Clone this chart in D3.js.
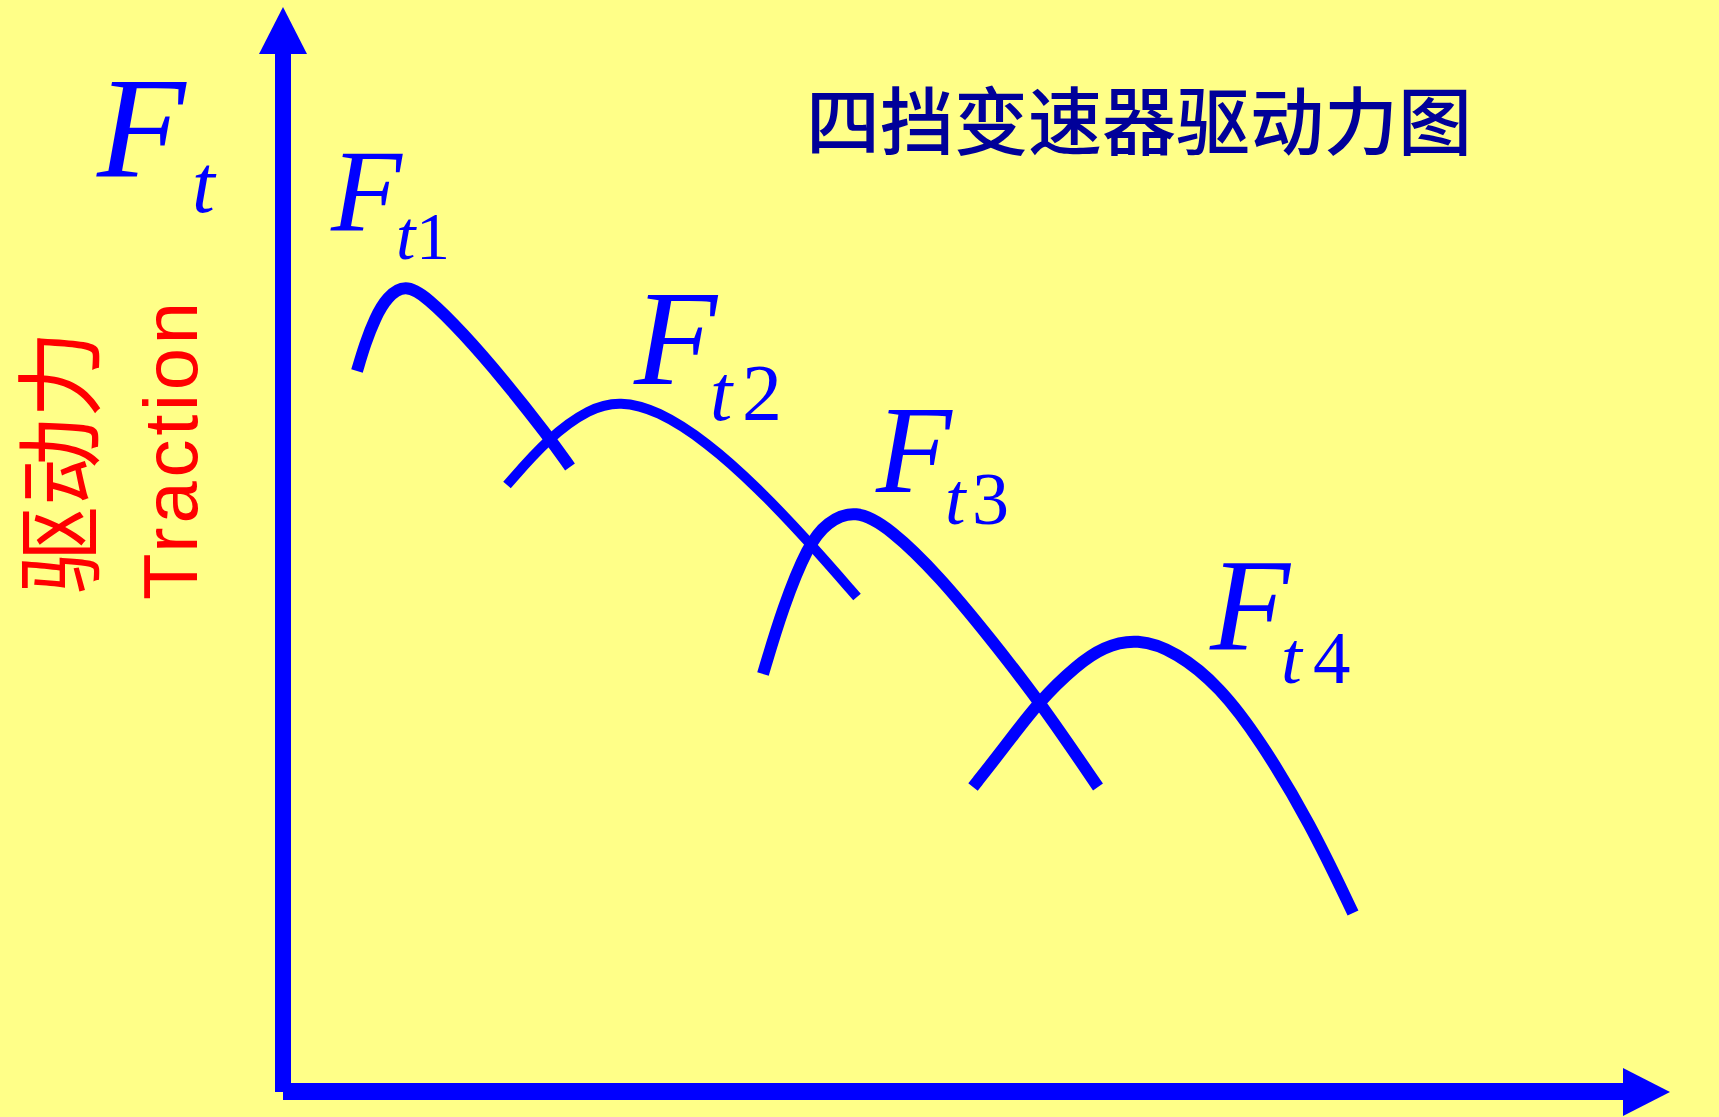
<!DOCTYPE html>
<html>
<head>
<meta charset="utf-8">
<script src="https://cdn.jsdelivr.net/npm/d3@7"></script>
<style>
  html, body { margin: 0; padding: 0; background: #FFFF88; overflow: hidden; }
  svg { display: block; }
</style>
</head>
<body>
<script>
// ---- data (abstract speed / traction units) ----
const gears = ["1", "2", "3", "4"];
const speed1 = [74, 82, 92, 104, 122, 144, 180, 220, 265, 287];
const force1 = [721, 748, 774, 795, 808, 795, 759, 713, 656, 625];
const speed2 = [224, 265, 307, 337, 374, 424, 474, 527, 574];
const force2 = [607, 654, 684, 691, 682, 650, 605, 549, 495];
const speed3 = [480, 500, 525, 544, 572, 607, 657, 707, 757, 815];
const force3 = [418, 485, 547, 570, 583, 564, 515, 454, 390, 305];
const speed4 = [690, 720, 757, 794, 820, 854, 894, 937, 977, 1027, 1070];
const force4 = [305, 343, 392, 427, 445, 454, 440, 405, 352, 269, 179];
const titleText = "四挡变速器驱动力图";
const yLabelCn = "驱动力";
const yLabelEn = "Traction";

const W = 1719, H = 1117;
const svg = d3.select("body").append("svg").attr("width", W).attr("height", H);
svg.append("rect").attr("width", W).attr("height", H).attr("fill", "#FFFF88");

const x = d3.scaleLinear().domain([0, 1387]).range([283, 1670]);
const y = d3.scaleLinear().domain([0, 1085]).range([1092, 7]);
const blue = "#0000FF";

// ---- axes ----
const ax = svg.append("g");
ax.append("line")
  .attr("x1", x(0)).attr("x2", x(0))
  .attr("y1", y(0)).attr("y2", 54)
  .attr("stroke", blue).attr("stroke-width", 16);
ax.append("polygon")
  .attr("points", [[x(0) - 24, 54], [x(0) + 24, 54], [x(0), y(1085)]].map(p => p.join(",")).join(" "))
  .attr("fill", blue);
ax.append("line")
  .attr("x1", x(0)).attr("x2", 1623)
  .attr("y1", y(0) - 0.5).attr("y2", y(0) - 0.5)
  .attr("stroke", blue).attr("stroke-width", 17);
ax.append("polygon")
  .attr("points", [[1623, y(0) - 24], [1623, y(0) + 24], [x(1387), y(0)]].map(p => p.join(",")).join(" "))
  .attr("fill", blue);

// ---- curves ----
const series = [
  { g: gears[0], sx: speed1, fy: force1, w: 12 },
  { g: gears[1], sx: speed2, fy: force2, w: 10 },
  { g: gears[2], sx: speed3, fy: force3, w: 12 },
  { g: gears[3], sx: speed4, fy: force4, w: 12 }
];
const line = d3.line().x(d => x(d[0])).y(d => y(d[1])).curve(d3.curveBasis);
svg.append("g").selectAll("path").data(series).join("path")
  .attr("d", s => line(s.sx.map((v, i) => [v, s.fy[i]])))
  .attr("fill", "none")
  .attr("stroke", blue)
  .attr("stroke-width", s => s.w)
  .attr("stroke-linecap", "butt")
  .attr("stroke-linejoin", "round");

// ---- labels ----
const serif = "'Liberation Serif', 'Times New Roman', serif";
function fLabel(cfg) {
  const t = svg.append("text").attr("font-family", serif).attr("fill", blue);
  t.append("tspan").attr("x", cfg.fx).attr("y", cfg.fy).attr("font-size", cfg.fs)
    .attr("font-style", "italic").text("F");
  t.append("tspan").attr("x", cfg.tx).attr("y", cfg.ty).attr("font-size", cfg.ts)
    .attr("font-style", "italic").text("t");
  if (cfg.d) {
    t.append("tspan").attr("x", cfg.dx).attr("y", cfg.ty).attr("font-size", cfg.ds)
      .attr("font-style", "normal").text(cfg.d);
  }
}
fLabel({ fx: 97, fy: 176, fs: 145, tx: 192, ty: 212, ts: 82 });
fLabel({ fx: 331, fy: 230, fs: 116, tx: 396, ty: 259, ts: 70, d: gears[0], dx: 416, ds: 68 });
fLabel({ fx: 634, fy: 384, fs: 136, tx: 710, ty: 420, ts: 80, d: gears[1], dx: 742, ds: 80 });
fLabel({ fx: 876, fy: 492, fs: 124, tx: 945, ty: 524, ts: 74, d: gears[2], dx: 972, ds: 74 });
fLabel({ fx: 1210, fy: 650, fs: 131, tx: 1281, ty: 683, ts: 75, d: gears[3], dx: 1313, ds: 75 });

// title
svg.append("text")
  .attr("x", 806).attr("y", 149)
  .attr("font-family", "'Noto Sans CJK SC', sans-serif")
  .attr("font-size", 74)
  .attr("font-weight", 500)
  .attr("fill", "#000099")
  .text(titleText);

// y-axis labels (rotated)
svg.append("text")
  .attr("transform", "translate(53,462) rotate(-90)")
  .attr("text-anchor", "middle")
  .attr("dominant-baseline", "central")
  .attr("font-family", "'Noto Sans CJK SC', sans-serif")
  .attr("font-size", 88)
  .attr("fill", "#FF0000")
  .text(yLabelCn);
svg.append("text")
  .attr("transform", "translate(197,600) rotate(-90)")
  .attr("x", 0).attr("y", 0)
  .attr("font-family", "'Liberation Sans', Arial, sans-serif")
  .attr("font-size", 76)
  .attr("textLength", 298)
  .attr("lengthAdjust", "spacing")
  .attr("fill", "#FF0000")
  .text(yLabelEn);
</script>
</body>
</html>
